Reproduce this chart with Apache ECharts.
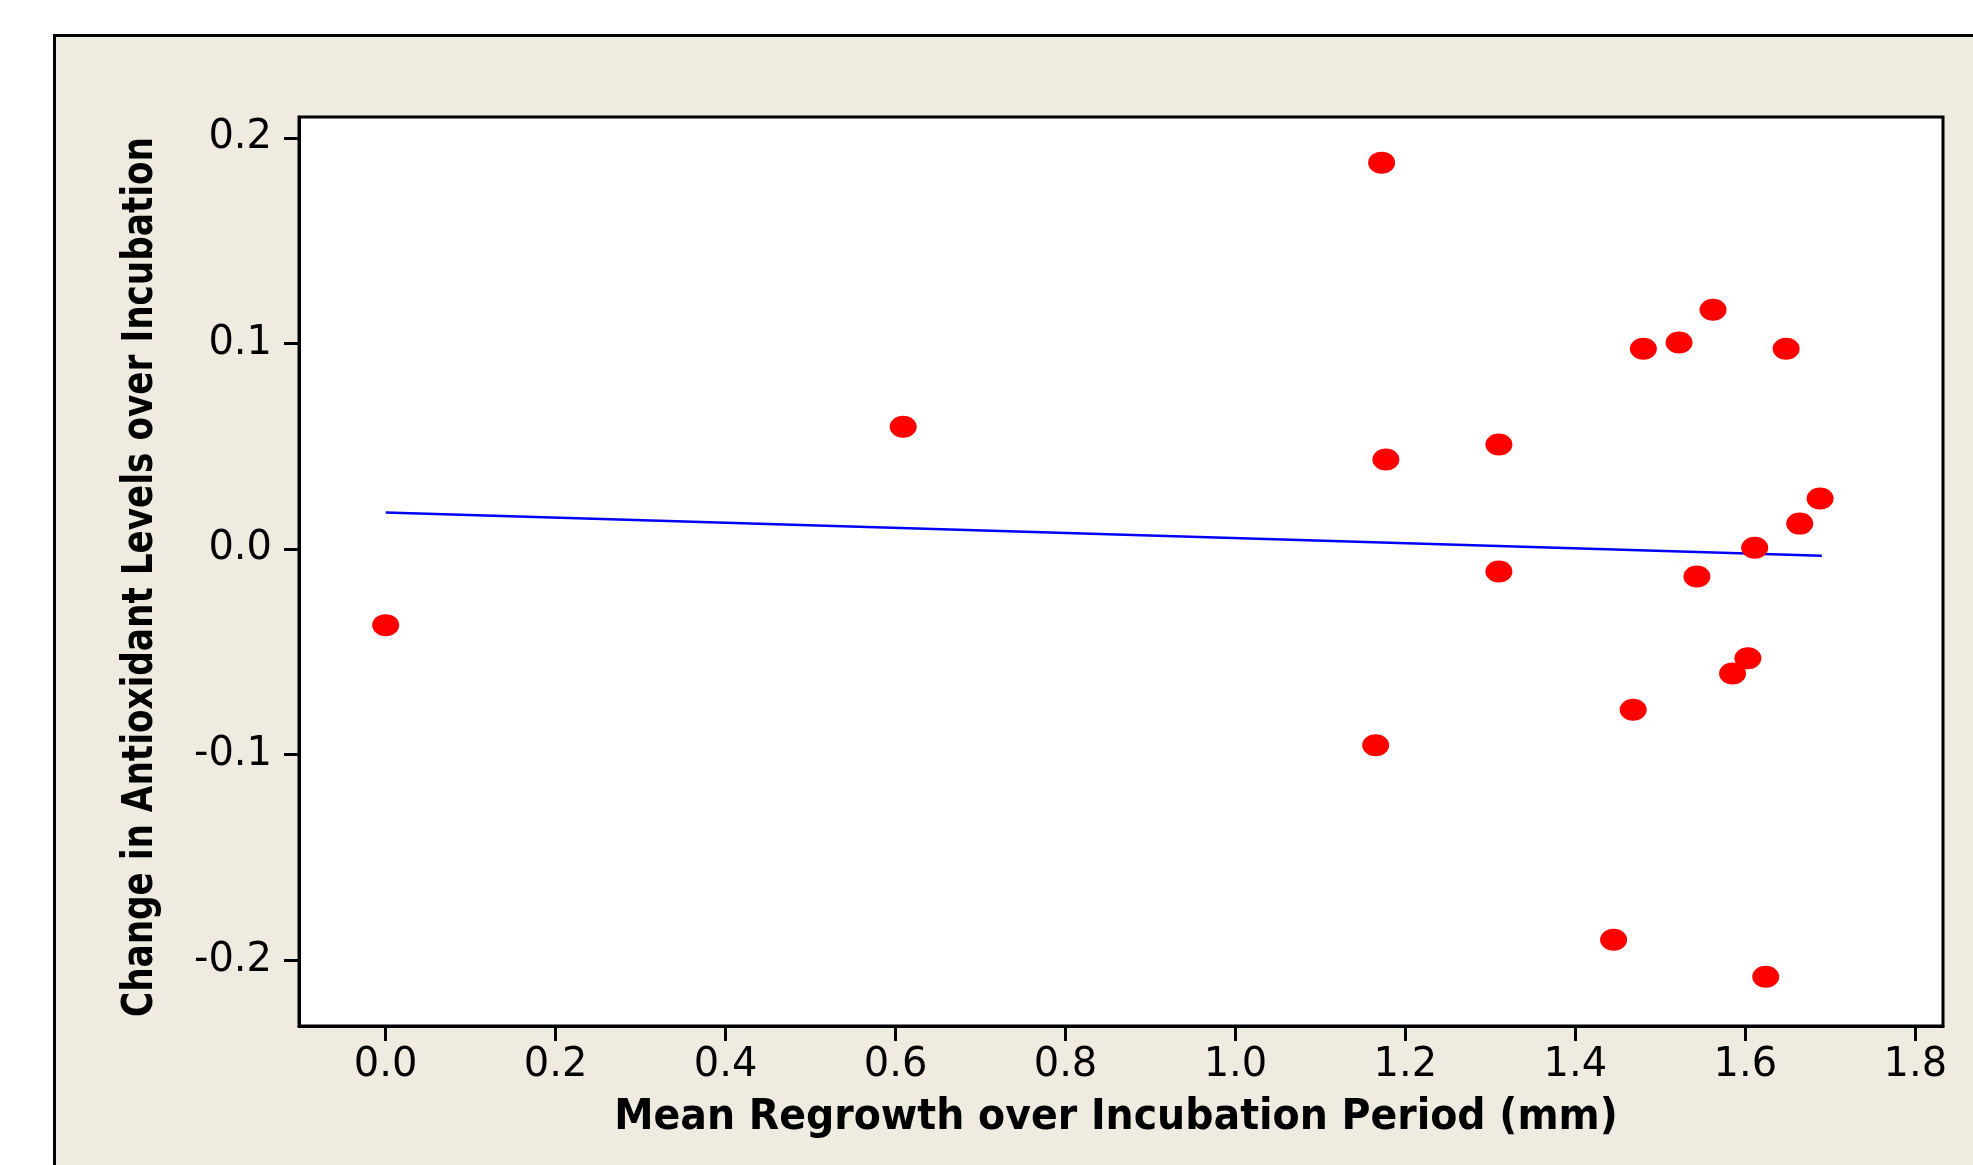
<!DOCTYPE html>
<html>
<head>
<meta charset="utf-8">
<title>Regrowth vs antioxidant change</title>
<script src="https://cdn.jsdelivr.net/npm/echarts@6/dist/echarts.min.js"></script>
<style>
  html, body { margin: 0; padding: 0; background: #fff; overflow: hidden; }
  #frame {
    position: absolute; left: 53px; top: 34px; width: 2000px; height: 1200px;
    background: #efebe1; border-left: 3px solid #000; border-top: 3px solid #000;
  }
  #chart { position: absolute; left: 0; top: 0; width: 1973px; height: 1165px; }
</style>
</head>
<body>
<div id="frame"></div>
<div id="chart"></div>
<script>
// data
const regrowth = [0.0, 0.609, 1.172, 1.177, 1.165, 1.310, 1.310, 1.445, 1.468, 1.480,
  1.522, 1.562, 1.543, 1.648, 1.585, 1.603, 1.611, 1.624, 1.664, 1.688];
const antioxidantChange = [-0.037, 0.0595, 0.188, 0.0436, -0.0954, 0.0509, -0.0109, -0.190, -0.0782, 0.0975,
  0.1005, 0.1164, -0.0133, 0.0975, -0.0605, -0.0531, 0.0007, -0.208, 0.0124, 0.0246];
// fitted regression line ends
const fitX = [0.0, 1.69];
const fitY = [0.0178, -0.0032];

const xTicks = [0.0, 0.2, 0.4, 0.6, 0.8, 1.0, 1.2, 1.4, 1.6, 1.8];
const yTicks = [-0.2, -0.1, 0.0, 0.1, 0.2];

const xTitle = 'Mean Regrowth over Incubation Period (mm)';
const yTitle = 'Change in Antioxidant Levels over Incubation';

let chart = echarts.init(document.getElementById('chart'));

const axisCommon = {
  type: 'value',
  axisLine: { show: true, onZero: false, lineStyle: { color: '#000', width: 3 } },
  axisTick: { show: true, inside: false, length: 15, lineStyle: { color: '#000', width: 3 } },
  splitLine: { show: false },
};

chart.setOption({
  backgroundColor: 'transparent',
  animation: false,
  grid: {
    left: 299,
    right: 30,
    top: 117,
    bottom: 139,
    show: true,
    backgroundColor: '#fff',
    borderColor: '#000',
    borderWidth: 3,
    containLabel: false,
    outerBoundsMode: 'none',
  },
  xAxis: {
    ...axisCommon,
    min: -0.102,
    max: 1.8326,
    axisTick: { ...axisCommon.axisTick, customValues: xTicks },
    axisLabel: {
      customValues: xTicks,
      margin: 20,
      fontFamily: 'DejaVu Sans',
      fontSize: 40,
      color: '#000',
      formatter: (v) => v.toFixed(1),
    },
  },
  yAxis: {
    ...axisCommon,
    min: -0.232,
    max: 0.2102,
    axisTick: { ...axisCommon.axisTick, customValues: yTicks },
    axisLabel: {
      customValues: yTicks,
      margin: 27,
      fontFamily: 'DejaVu Sans',
      fontSize: 40,
      color: '#000',
      formatter: (v) => v.toFixed(1),
    },
  },
  graphic: [
    {
      type: 'text',
      x: 1116,
      y: 1118,
      scaleX: 0.94,
      style: {
        text: xTitle,
        fontFamily: 'DejaVu Sans',
        fontWeight: 'bold',
        fontSize: 42,
        fill: '#000',
        align: 'center',
        verticalAlign: 'middle',
      },
    },
    {
      type: 'text',
      x: 141,
      y: 577,
      rotation: Math.PI / 2,
      scaleX: 0.816,
      style: {
        text: yTitle,
        fontFamily: 'DejaVu Sans',
        fontWeight: 'bold',
        fontSize: 42,
        fill: '#000',
        align: 'center',
        verticalAlign: 'middle',
      },
    },
  ],
  series: [
    {
      type: 'line',
      data: fitX.map((x, i) => [x, fitY[i]]),
      symbol: 'none',
      lineStyle: { color: '#0000ff', width: 2.5 },
      z: 2,
    },
    {
      type: 'scatter',
      data: regrowth.map((x, i) => [x, antioxidantChange[i]]),
      symbol: 'circle',
      symbolSize: [27, 22],
      itemStyle: { color: '#ff0000', opacity: 1 },
      z: 3,
    },
  ],
});
</script>
</body>
</html>
